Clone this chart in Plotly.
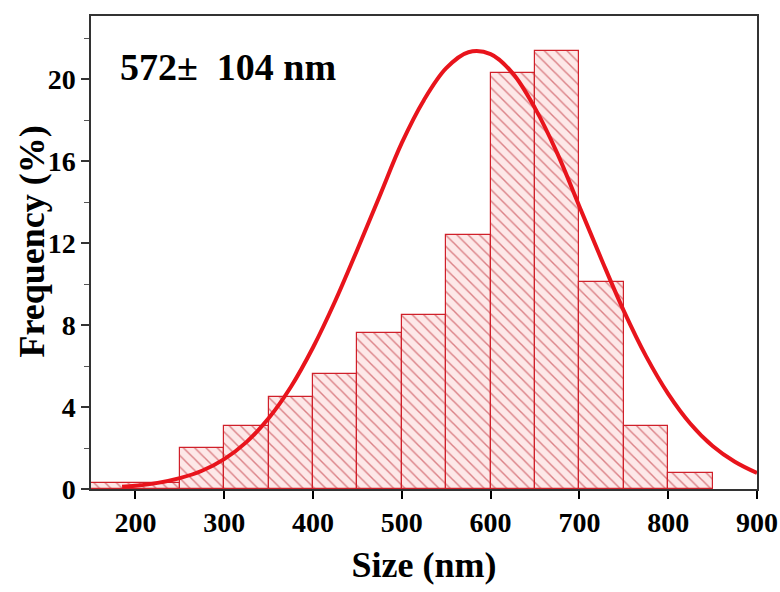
import plotly.graph_objects as go

# Histogram bins (nm) and frequencies (%)
bin_centers = [200, 275, 325, 375, 425, 475, 525, 575, 625, 675, 725, 775, 825]
bin_widths = [100, 50, 50, 50, 50, 50, 50, 50, 50, 50, 50, 50, 50]
freq = [0.3, 2.0, 3.1, 4.5, 5.6, 7.6, 8.5, 12.4, 20.3, 21.4, 10.1, 3.1, 0.8]

# Fitted curve points
fit_x = [185, 200, 225, 250, 275, 300, 325, 350, 375, 400, 425, 450, 475, 500, 525, 550,
         575, 600, 625, 650, 675, 700, 725, 750, 775, 800, 825, 850, 875, 900]
fit_y = [0.11, 0.16, 0.30, 0.53, 0.89, 1.46, 2.29, 3.45, 4.98, 6.91, 9.18, 11.7, 14.3, 16.9, 19.0, 20.55,
         21.33, 21.24, 20.3, 18.6, 16.4, 13.8, 11.2, 8.7, 6.49, 4.65, 3.19, 2.1, 1.33, 0.78]

x_ticks = [200, 300, 400, 500, 600, 700, 800, 900]
y_ticks = [0, 4, 8, 12, 16, 20]

font = "Liberation Serif"

fig = go.Figure()
fig.add_trace(go.Bar(
    x=bin_centers, y=freq, width=bin_widths,
    marker=dict(
        color="#fde8e8",
        line=dict(color="#d0202a", width=1.2),
        pattern=dict(shape="\\", fgcolor="#b81a24", bgcolor="#fde8e8", size=8, solidity=0.18),
    ),
    showlegend=False,
))
fig.add_trace(go.Scatter(
    x=fit_x, y=fit_y, mode="lines",
    line=dict(color="#e8141c", width=4, shape="spline", smoothing=1.0),
    showlegend=False,
))

fig.update_layout(
    width=780, height=592,
    margin=dict(l=91, r=23, t=16, b=103, autoexpand=False),
    paper_bgcolor="white", plot_bgcolor="white",
    bargap=0,
    font=dict(family=font, color="black"),
    annotations=[
        dict(
            x=0.04, y=0.892, xref="paper", yref="paper", xanchor="left", yanchor="middle",
            text="<b>572±  104 nm</b>", showarrow=False,
            font=dict(family=font, size=38, color="black"),
        ),
        dict(
            x=-0.088, y=0.524, xref="paper", yref="paper", xanchor="center", yanchor="middle",
            text="<b>Frequency (%)</b>", textangle=-90, showarrow=False,
            font=dict(family=font, size=36, color="black"),
        ),
    ],
)
fig.update_xaxes(
    range=[150, 900], tickvals=x_ticks, ticktext=[f"<b>{v}</b>" for v in x_ticks],
    ticks="outside", ticklen=8, tickwidth=1.5, tickcolor="black",
    showline=True, linecolor="#333", linewidth=1.5, mirror=True,
    showgrid=False, zeroline=False, automargin=False,
    tickfont=dict(family=font, size=28, color="black"),
    title=dict(text="<b>Size (nm)</b>", font=dict(family=font, size=36, color="black"), standoff=14),
)
fig.update_yaxes(
    range=[0, 23.1], tickvals=y_ticks, ticktext=[f"<b>{v}</b>" for v in y_ticks],
    ticks="outside", ticklen=8, tickwidth=1.5, tickcolor="#333",
    minor=dict(tickvals=[2, 6, 10, 14, 18, 22], ticks="outside", ticklen=5, tickcolor="#555", tickwidth=1),
    showline=True, linecolor="#333", linewidth=1.5, mirror=True,
    showgrid=False, zeroline=False, automargin=False,
    tickfont=dict(family=font, size=28, color="black"),
)

fig.write_html("out.html", config={"displayModeBar": False},
               post_script="document.body.style.margin='0';")
